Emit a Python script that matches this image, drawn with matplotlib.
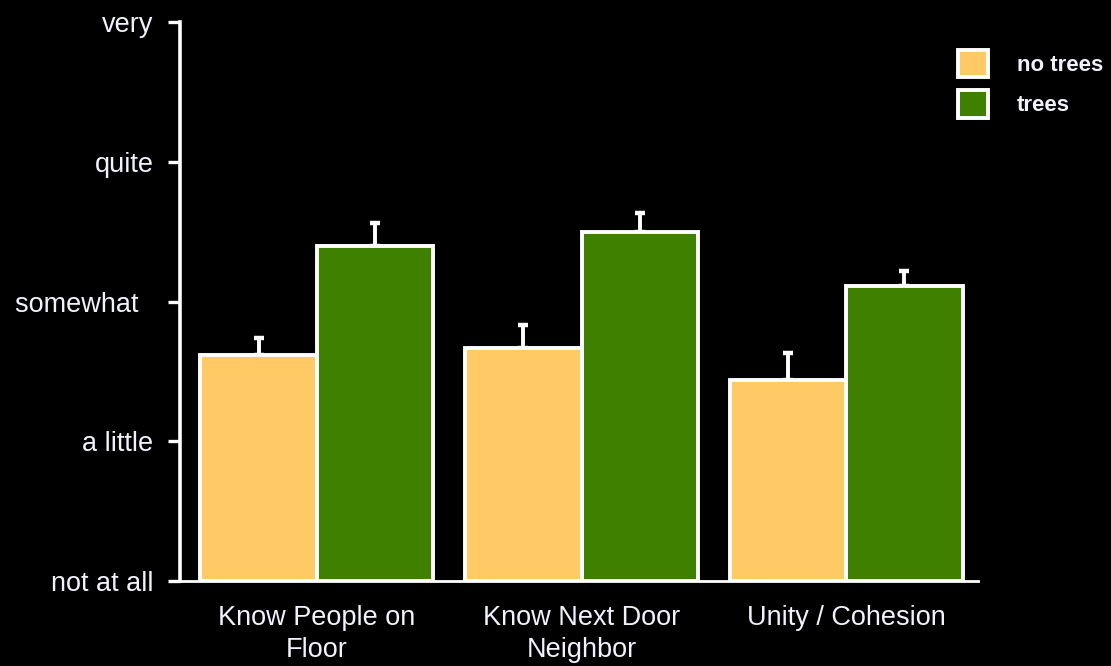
import matplotlib
matplotlib.use("Agg")
import numpy as np
import matplotlib.pyplot as plt

# data
categories = ["Know People on\nFloor", "Know Next Door\nNeighbor", "Unity / Cohesion"]
no_trees = [1.62, 1.67, 1.44]
no_trees_err = [0.12, 0.16, 0.19]
trees = [2.40, 2.50, 2.11]
trees_err = [0.165, 0.135, 0.11]
level_labels = ["not at all", "a little", "somewhat  ", "quite", "very"]

col_no = "#FFCA66"
col_tr = "#408000"
txt = "#F2F2FF"

plt.rcParams['font.family'] = ['Liberation Sans', 'DejaVu Sans']

fig = plt.figure(figsize=(11.11, 6.66), dpi=100, facecolor="black")
ax = fig.add_axes([180/1111, 1 - 581/666, (978 - 180)/1111, (581 - 22)/666])
ax.set_facecolor("black")

x = np.arange(len(categories))
w = 0.44

b1 = ax.bar(x - w/2, no_trees, w, color=col_no, edgecolor="white", linewidth=2.8, label="no trees", zorder=2)
b2 = ax.bar(x + w/2, trees, w, color=col_tr, edgecolor="white", linewidth=2.8, label="trees", zorder=2)

# only upper error bars; drawn under the bars so the zero-length lower cap is hidden
ax.errorbar(x - w/2, no_trees, yerr=[np.zeros(3), no_trees_err], fmt="none",
            ecolor="white", elinewidth=2.8, capsize=3.5, capthick=3.2, zorder=1)
ax.errorbar(x + w/2, trees, yerr=[np.zeros(3), trees_err], fmt="none",
            ecolor="white", elinewidth=2.8, capsize=3.5, capthick=3.2, zorder=1)

ax.set_xlim(-0.517, 2.498)
ax.set_ylim(0, 4)
ax.set_yticks(range(5))
ax.set_yticklabels(level_labels)
ax.set_xticks(x)
ax.set_xticklabels(categories)

ax.tick_params(axis="y", colors="white", labelcolor=txt, labelsize=19.5,
               length=9, width=2.4, direction="out", pad=10)
ax.tick_params(axis="x", length=0, labelcolor=txt, labelsize=19.5, pad=17)
for lab in ax.get_xticklabels():
    lab.set_linespacing(1.3)

for s in ["top", "right"]:
    ax.spines[s].set_visible(False)
ax.spines["left"].set_color("white")
ax.spines["left"].set_linewidth(2.6)
ax.spines["bottom"].set_color("white")
ax.spines["bottom"].set_linewidth(2.0)

leg = ax.legend(handles=[b1, b2], loc="upper left",
                bbox_to_anchor=(958/1111, 1 - 50/666), bbox_transform=fig.transFigure,
                frameon=False, borderpad=0, borderaxespad=0,
                prop={"size": 16, "weight": "bold"},
                handlelength=1.36, handleheight=1.5, handletextpad=1.3, labelspacing=0.6)
for t in leg.get_texts():
    t.set_color(txt)

fig.savefig("out.png", facecolor="black")
